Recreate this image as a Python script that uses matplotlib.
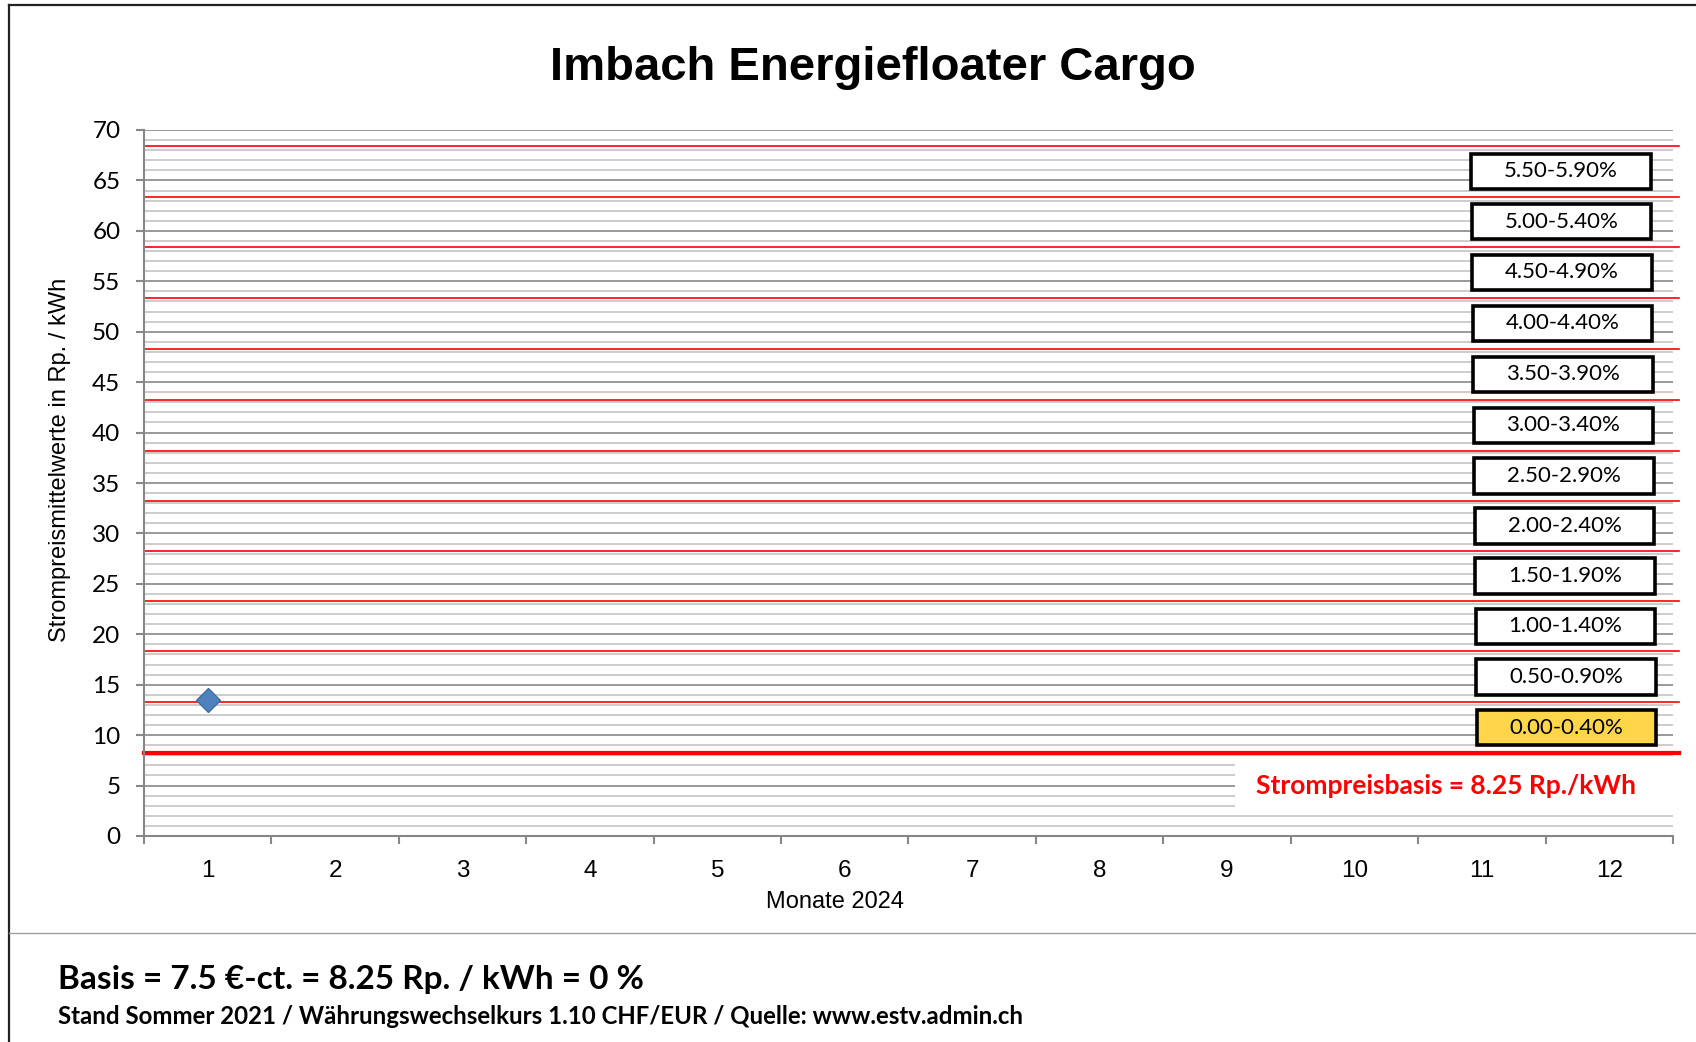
import matplotlib
matplotlib.use('Agg')
import matplotlib.pyplot as plt
from matplotlib.patches import Rectangle
from matplotlib.lines import Line2D

# data
months = list(range(1, 13))
price_months = [1]
price_values = [13.5]          # Rp./kWh
basis = 8.25
band_limits = [8.25, 13.25, 18.3, 23.3, 28.25, 33.2, 38.2, 43.25, 48.3, 53.35, 58.4, 63.4, 68.4]
band_labels = ['0.00-0.40%', '0.50-0.90%', '1.00-1.40%', '1.50-1.90%', '2.00-2.40%', '2.50-2.90%',
               '3.00-3.40%', '3.50-3.90%', '4.00-4.40%', '4.50-4.90%', '5.00-5.40%', '5.50-5.90%']
active_band = 0

W, H = 1696, 1042
fig = plt.figure(figsize=(W / 100, H / 100), dpi=100)

def fx(x):
	return x / W

def fy(y):
	return 1 - y / H

arial = ['Liberation Sans', 'DejaVu Sans']
calib = ['Lato', 'DejaVu Sans']

ax = fig.add_axes([fx(144), fy(836), fx(1673) - fx(144), fy(130) - fy(836)])
ax.set_xlim(0.5, 12.5)
ax.set_ylim(0, 70)
ax.set_axisbelow(True)

# grid
ax.set_yticks(range(0, 71, 5))
ax.set_yticks(range(0, 71, 1), minor=True)
ax.grid(which='minor', axis='y', color='#c3c3c3', lw=1.2)
ax.grid(which='major', axis='y', color='#878787', lw=1.2)
ax.set_xticks([m - 0.5 for m in months] + [12.5])
ax.set_xticklabels([])
for m in months:
	ax.text(m, -3.5, str(m), ha='center', va='center', fontsize=17.5, family=arial)

for s in ['top', 'right']:
	ax.spines[s].set_visible(False)
for s in ['left', 'bottom']:
	ax.spines[s].set_color('#878787')
	ax.spines[s].set_linewidth(1.5)
ax.tick_params(which='major', length=6, width=1.5, color='#878787', direction='out')
ax.tick_params(which='minor', length=0)
ax.tick_params(axis='y', labelsize=17.5, pad=11)
for lab in ax.get_yticklabels():
	lab.set_family(calib)

# red threshold lines
for i, v in enumerate(band_limits):
	ax.axhline(v, xmin=0, xmax=1.004, color='red', lw=3 if i == 0 else 1.2, zorder=2, clip_on=False)

# band labels
for i, lab in enumerate(band_labels):
	yc = (band_limits[i] + band_limits[i + 1]) / 2
	xc = 11.64 + 0.004 * (6 - i)
	fc = '#ffd54a' if i == active_band else 'white'
	ax.add_patch(Rectangle((xc - 0.705, yc - 1.75), 1.41, 3.5, facecolor=fc, edgecolor='black', lw=2.6, zorder=4))
	ax.text(xc, yc, lab, ha='center', va='center', fontsize=16, family=calib, zorder=5)

# basis label on white background
ax.add_patch(Rectangle((9.06, 2.5), 3.44, 5.0, facecolor='white', edgecolor='none', zorder=1))
ax.text(10.72, 5.0, 'Strompreisbasis = %.2f Rp./kWh' % basis, ha='center', va='center',
	fontsize=19, fontweight='bold', color='red', family=calib, zorder=5)

# price series
ax.plot(price_months, price_values, 'D', color='#4f81bd', mec='#3f6ea8', ms=12, zorder=6)

# titles and labels
fig.text(fx(873), fy(68), 'Imbach Energiefloater Cargo', ha='center', va='center',
	fontsize=34, fontweight='bold', family=arial)
fig.text(fx(60), fy(460), 'Strompreismittelwerte in Rp. / kWh', rotation=90, ha='center', va='center',
	fontsize=17, family=arial)
fig.text(fx(835), fy(902), 'Monate 2024', ha='center', va='center', fontsize=17, family=arial)

# footer
fig.text(fx(58), fy(979), 'Basis = 7.5 €-ct. = 8.25 Rp. / kWh = 0 %', ha='left', va='center',
	fontsize=24, fontweight='bold', family=calib)
fig.text(fx(58), fy(1016), 'Stand Sommer 2021 / Währungswechselkurs 1.10 CHF/EUR / Quelle: www.estv.admin.ch',
	ha='left', va='center', fontsize=17.3, fontweight='bold', family=calib)

# frame and separator
fig.add_artist(Line2D([fx(9), fx(9)], [fy(5), 0], color='#222222', lw=1.6))
fig.add_artist(Line2D([fx(9), 1], [fy(5), fy(5)], color='#222222', lw=1.6))
fig.add_artist(Line2D([fx(9), 1], [fy(933), fy(933)], color='#a0a0a0', lw=1.0))

fig.savefig('out.png', dpi=100)
